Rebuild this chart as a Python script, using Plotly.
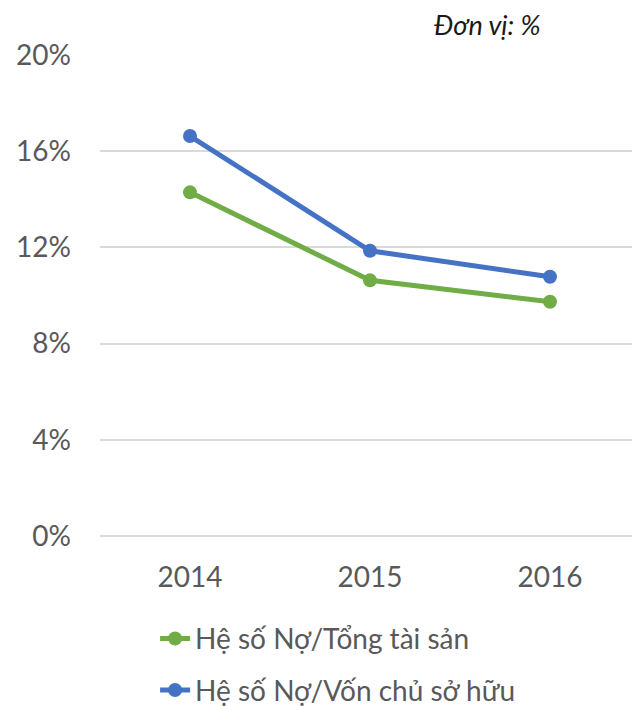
import plotly.graph_objects as go

years = ["2014", "2015", "2016"]
no_tong_tai_san = [14.29, 10.63, 9.74]
no_von_chu_so_huu = [16.63, 11.86, 10.78]
y_ticks = [0, 4, 8, 12, 16, 20]
y_tick_labels = [f"{v}%" for v in y_ticks]

font_family = "Lato, 'Open Sans', sans-serif"
grey = "#595959"

fig = go.Figure()
fig.add_trace(go.Scatter(
    x=years, y=no_tong_tai_san, name="Hệ số Nợ/Tổng tài sản",
    mode="lines+markers", legendgroup="a",
    line=dict(color="#70AD47", width=5),
    marker=dict(size=14, color="#70AD47"),
))
fig.add_trace(go.Scatter(
    x=years, y=no_von_chu_so_huu, name="Hệ số Nợ/Vốn chủ sở hữu",
    mode="lines+markers", legendgroup="b",
    line=dict(color="#4472C4", width=5),
    marker=dict(size=14, color="#4472C4"),
))

# page body has an 8px margin; compensate so the plot lands where the reference has it
fig.update_layout(
    width=632, height=698,
    margin=dict(l=92, r=0, t=47, b=170),
    plot_bgcolor="white", paper_bgcolor="white",
    font=dict(family=font_family, size=28, color=grey),
    xaxis=dict(
        type="category", range=[-0.5, 2.5], showgrid=False, showline=False,
        zeroline=False, ticks="", ticklabelstandoff=22,
        tickfont=dict(size=28, color=grey),
    ),
    yaxis=dict(
        range=[0, 20], tickmode="array", tickvals=y_ticks, ticktext=y_tick_labels,
        showgrid=True, gridcolor="#D9D9D9", gridwidth=1.5,
        zeroline=True, zerolinecolor="#D9D9D9", zerolinewidth=1.5,
        showline=False, ticks="", ticklabelstandoff=28,
        tickfont=dict(size=28, color=grey),
    ),
    legend=dict(
        orientation="v", x=0.102, xanchor="left",
        yref="container", y=0.132, yanchor="top",
        font=dict(size=28, color=grey), tracegroupgap=12,
        bgcolor="rgba(0,0,0,0)",
    ),
    showlegend=True,
)
fig.add_annotation(
    text="<i>Đơn vị: %</i>", xref="paper", yref="paper",
    x=(543 - 100) / 540, y=1 + (55 - 25) / 481, xanchor="right", yanchor="middle",
    showarrow=False, font=dict(size=27, color="#1a1a1a", family=font_family),
)

fig.write_html("out.html")
